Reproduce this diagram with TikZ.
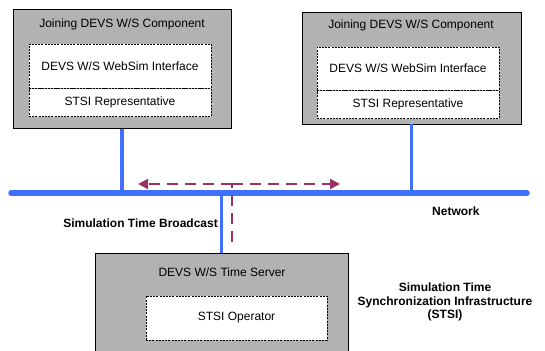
\documentclass[tikz,border=0pt]{standalone}
\usepackage{fontspec}
\setmainfont{Liberation Sans}
\usetikzlibrary{arrows.meta,positioning}
\definecolor{boxgray}{HTML}{B2B2B2}
\definecolor{netblue}{HTML}{4070FF}
\definecolor{tsync}{HTML}{993366}
\tikzset{
  comp/.style={draw=black, fill=boxgray, line width=0.8pt, inner sep=0pt},
  part/.style={draw=black, fill=white, dash pattern=on 2pt off 1.2pt,
               line width=0.6pt, inner sep=0pt, minimum width=182pt,
               font=\fontsize{12}{14}\selectfont},
  ttl/.style={font=\fontsize{12}{14}\selectfont, inner sep=0pt},
  note/.style={font=\bfseries\fontsize{12}{13.5}\selectfont, align=center,
               inner sep=0pt},
  wire/.style={draw=netblue, line width=3.5pt},
  net/.style={draw=netblue, line width=5.5pt, line cap=round},
  bline/.style={draw=tsync, line width=2pt, dash pattern=on 11pt off 7pt},
  barrow/.style={bline, -{Triangle[length=10pt,width=10pt]}},
}
\begin{document}
\begin{tikzpicture}[x=1pt, y=-1pt]
  \useasboundingbox (0,0) rectangle (545,350);
  \clip (0,0) rectangle (545,350);

  % joining components
  \node[comp, minimum width=218pt, minimum height=119pt] (joinL) at (122,69) {};
  \node[comp, minimum width=219pt, minimum height=112pt] (joinR) at (411.5,68) {};
  \node[ttl] (ttlL) at (122,24) {Joining DEVS W/S Component};
  \node[ttl] (ttlR) at (411,25) {Joining DEVS W/S Component};
  \node[part, minimum height=44pt] (webL) at (120,66) {DEVS W/S WebSim Interface};
  \node[part, minimum height=28pt, below=0pt of webL] (repL) {STSI Representative};
  \node[part, minimum height=43pt] (webR) at (408,68.5) {DEVS W/S WebSim Interface};
  \node[part, minimum height=28pt, below=0pt of webR] (repR) {STSI Representative};

  % time server
  \node[comp, minimum width=253pt, minimum height=110pt] (server) at (221.5,308) {};
  \node[ttl] (ttlS) at (222,272) {DEVS W/S Time Server};
  \node[part, minimum width=181pt, minimum height=44pt] (oper) at (236.5,318) {STSI Operator};

  % network
  \coordinate (netW) at (11,193);
  \coordinate (netE) at (527,193);
  \draw[net] (netW) -- (netE);
  \foreach \n in {joinL, joinR}
    \draw[wire] (\n.south) -- (\n.south |- netW);
  \draw[wire] (netW -| server.north) -- (server.north);

  % broadcast
  \coordinate (bcBot) at (232,242);
  \coordinate (bcTop) at (232,184);
  \coordinate (bcL) at (138,184);
  \coordinate (bcR) at (340,184);
  \draw[bline] (bcBot) -- (bcTop);
  \draw[barrow] (bcTop) -- (bcL);
  \draw[barrow] (bcTop) -- (bcR);

  \node[note, anchor=east] (bclbl) at (218,223) {Simulation Time Broadcast};
  \node[note, anchor=west] (netlbl) at (432,211) {Network};
  \node[note] (stsi) at (445,302) {Simulation Time\\Synchronization Infrastructure\\(STSI)};
\end{tikzpicture}
\end{document}
